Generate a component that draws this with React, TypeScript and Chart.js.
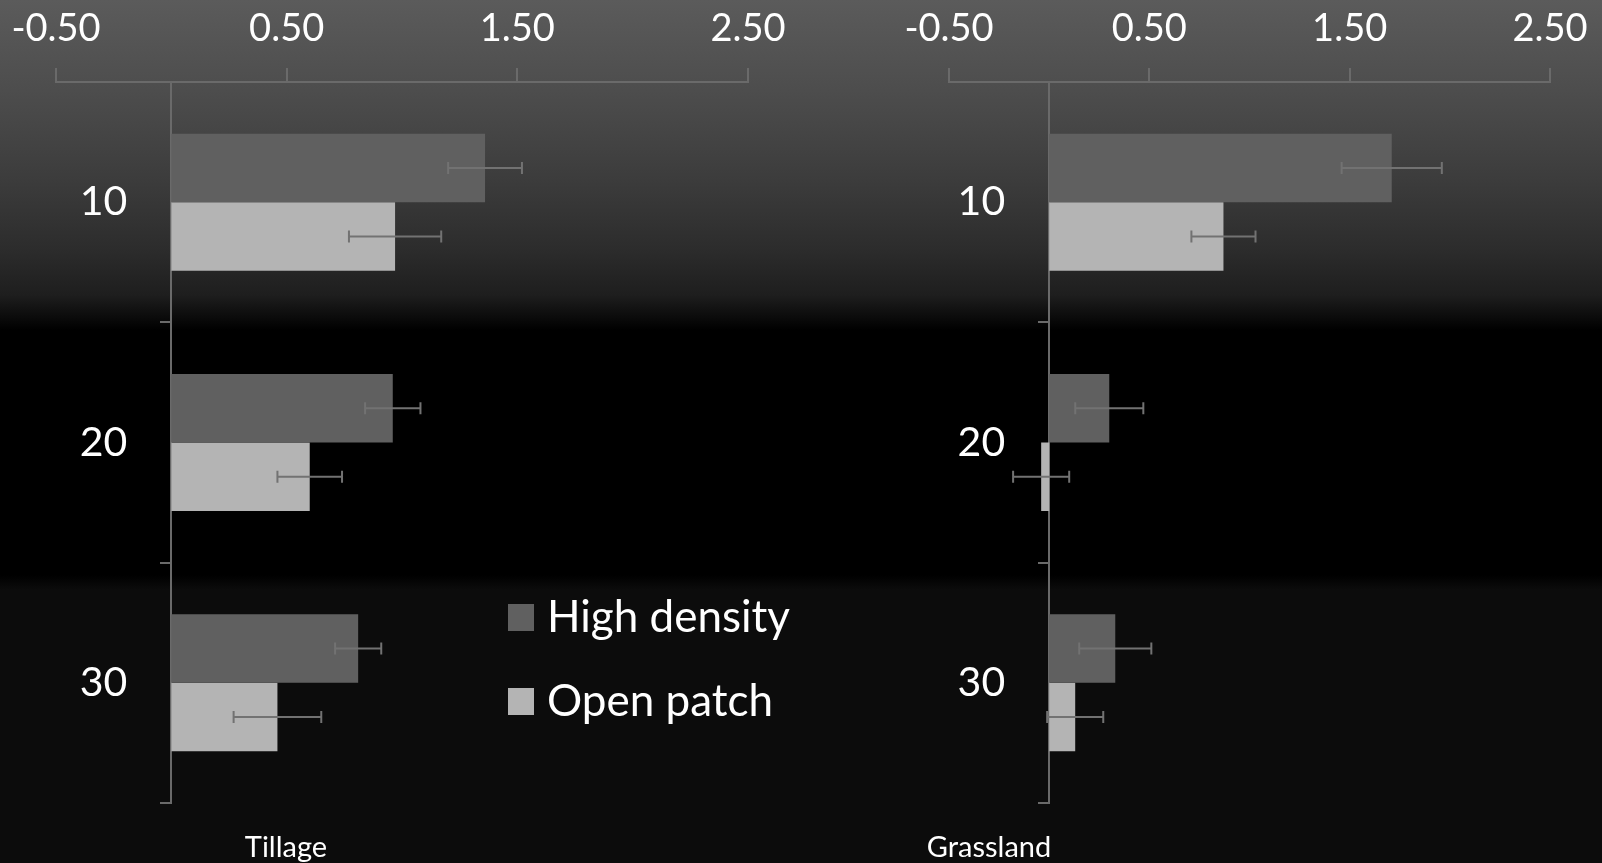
import React, { useEffect, useRef } from "react";
import { Chart, registerables } from "chart.js";

Chart.register(...registerables);

// Soil depth classes (cm) shown on the category axis
const depths = ["10", "20", "30"];
const xTicks = [-0.5, 0.5, 1.5, 2.5];

// Tillage
const tillageHigh = [1.36, 0.96, 0.81];
const tillageHighErr = [0.16, 0.12, 0.1];
const tillageOpen = [0.97, 0.6, 0.46];
const tillageOpenErr = [0.2, 0.14, 0.19];

// Grassland
const grassHigh = [1.71, 0.3, 0.33];
const grassHighErr = [0.25, 0.17, 0.18];
const grassOpen = [0.87, -0.04, 0.13];
const grassOpenErr = [0.16, 0.14, 0.14];

const seriesNames = ["High density", "Open patch"];
const seriesColors = ["#606060", "#b4b4b4"];

const FONT = "Lato, 'Open Sans', sans-serif";
const AXIS_COLOR = "#6a6a6a";

function makeErrorBars(errors: number[][]) {
  return {
    id: "errorBars",
    afterDatasetsDraw(chart: any) {
      const { ctx } = chart;
      const xs = chart.scales.x;
      ctx.save();
      ctx.strokeStyle = "#727272";
      ctx.lineWidth = 2;
      chart.data.datasets.forEach((ds: any, di: number) => {
        const meta = chart.getDatasetMeta(di);
        meta.data.forEach((bar: any, i: number) => {
          const v = ds.data[i] as number;
          const e = errors[di][i];
          const x1 = xs.getPixelForValue(v - e);
          const x2 = xs.getPixelForValue(v + e);
          const y = bar.y;
          const cap = 6;
          ctx.beginPath();
          ctx.moveTo(x1, y);
          ctx.lineTo(x2, y);
          ctx.moveTo(x1, y - cap);
          ctx.lineTo(x1, y + cap);
          ctx.moveTo(x2, y - cap);
          ctx.lineTo(x2, y + cap);
          ctx.stroke();
        });
      });
      ctx.restore();
    },
  };
}

// Category labels sit left of the zero-positioned axis, with a gap past the tick marks
const categoryLabels = {
  id: "categoryLabels",
  afterDraw(chart: any) {
    const { ctx } = chart;
    const xs = chart.scales.x;
    const ys = chart.scales.y;
    const xRight = xs.getPixelForValue(0) - 44;
    ctx.save();
    ctx.fillStyle = "#ffffff";
    ctx.font = `41px ${FONT}`;
    ctx.textAlign = "right";
    ctx.textBaseline = "middle";
    (chart.data.labels as string[]).forEach((lbl, i) => {
      ctx.fillText(lbl, xRight, ys.getPixelForValue(i));
    });
    ctx.restore();
  },
};

type PanelProps = {
  high: number[];
  highErr: number[];
  open: number[];
  openErr: number[];
  padLeft: number;
  padRight: number;
};

function Panel({ high, highErr, open, openErr, padLeft, padRight }: PanelProps) {
  const ref = useRef<HTMLCanvasElement | null>(null);

  useEffect(() => {
    if (!ref.current) return;
    const chart = new Chart(ref.current, {
      type: "bar",
      data: {
        labels: depths,
        datasets: [
          { label: seriesNames[0], data: high, backgroundColor: seriesColors[0], borderWidth: 0 },
          { label: seriesNames[1], data: open, backgroundColor: seriesColors[1], borderWidth: 0 },
        ],
      },
      options: {
        indexAxis: "y",
        animation: false,
        responsive: true,
        maintainAspectRatio: false,
        layout: { padding: { left: padLeft, right: padRight, top: 0, bottom: 60 } },
        plugins: { legend: { display: false }, tooltip: { enabled: false } },
        datasets: { bar: { categoryPercentage: 0.57, barPercentage: 1 } },
        scales: {
          x: {
            type: "linear",
            position: "top",
            min: xTicks[0],
            max: xTicks[xTicks.length - 1],
            afterBuildTicks: (s: any) => {
              s.ticks = xTicks.map((v) => ({ value: v }));
            },
            afterFit: (s: any) => {
              s.height = 82;
            },
            ticks: {
              color: "#ffffff",
              font: { family: FONT, size: 38, lineHeight: 1.67 },
              padding: 8,
              maxRotation: 0,
              callback: (v: any) => Number(v).toFixed(2),
            },
            grid: {
              drawOnChartArea: false,
              drawTicks: true,
              tickLength: 14,
              color: AXIS_COLOR,
              lineWidth: 2,
            },
            border: { display: true, color: AXIS_COLOR, width: 2 },
          },
          y: {
            type: "category",
            position: { x: 0 } as any,
            offset: true,
            ticks: { display: false },
            grid: {
              offset: true,
              drawOnChartArea: false,
              drawTicks: true,
              tickLength: 10,
              color: AXIS_COLOR,
              lineWidth: 2,
            },
            border: { display: true, color: AXIS_COLOR, width: 2 },
          },
        },
      },
      plugins: [makeErrorBars([highErr, openErr]), categoryLabels],
    });
    return () => chart.destroy();
  }, []);

  return <canvas ref={ref} />;
}

const textStyle: React.CSSProperties = {
  position: "absolute",
  color: "#ffffff",
  fontFamily: FONT,
  whiteSpace: "nowrap",
  lineHeight: 1,
};

export default function App() {
  return (
    <div
      style={{
        position: "fixed",
        left: 0,
        top: 0,
        width: 1602,
        height: 863,
        overflow: "hidden",
        background:
          "linear-gradient(to bottom, #5b5b5b 0px, #4d4d4d 90px, #3c3c3c 180px, #2c2c2c 250px, #1e1e1e 295px, #000000 330px, #000000 575px, #0c0c0c 590px, #0c0c0c 100%)",
      }}
    >
      <div style={{ position: "absolute", left: 0, top: 0, width: 800, height: 863 }}>
        <Panel
          high={tillageHigh}
          highErr={tillageHighErr}
          open={tillageOpen}
          openErr={tillageOpenErr}
          padLeft={56}
          padRight={52}
        />
      </div>
      <div style={{ position: "absolute", left: 800, top: 0, width: 802, height: 863 }}>
        <Panel
          high={grassHigh}
          highErr={grassHighErr}
          open={grassOpen}
          openErr={grassOpenErr}
          padLeft={149}
          padRight={52}
        />
      </div>

      {seriesNames.map((name, i) => (
        <div
          key={name}
          style={{
            position: "absolute",
            left: 508,
            top: 604 + i * 84,
            height: 27,
            display: "flex",
            alignItems: "center",
          }}
        >
          <div style={{ width: 26, height: 27, background: seriesColors[i], flex: "none" }} />
          <span
            style={{
              ...textStyle,
              position: "relative",
              top: -3,
              fontSize: 44,
              marginLeft: 13,
            }}
          >
            {name}
          </span>
        </div>
      ))}

      <div style={{ ...textStyle, fontSize: 29, left: 286, top: 845, transform: "translate(-50%, -50%)" }}>
        Tillage
      </div>
      <div style={{ ...textStyle, fontSize: 29, left: 989, top: 845, transform: "translate(-50%, -50%)" }}>
        Grassland
      </div>
    </div>
  );
}
